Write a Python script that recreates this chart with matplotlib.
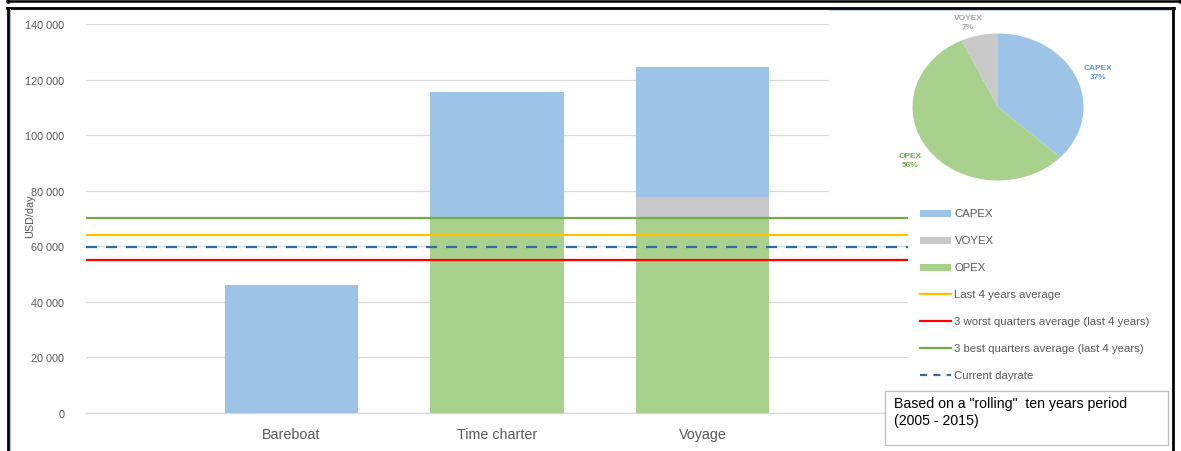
import matplotlib
matplotlib.use("Agg")
import matplotlib.pyplot as plt
from matplotlib.patches import Rectangle
from matplotlib.lines import Line2D

plt.rcParams['font.family'] = ['Liberation Sans', 'DejaVu Sans']

# ---- data -------------------------------------------------------------
categories = ["Bareboat", "Time charter", "Voyage"]
opex = [0, 70000, 70000]
voyex = [0, 0, 7900]
capex = [46200, 45600, 46600]

last4_avg = 64000
worst3_avg = 55000
best3_avg = 70300
current_rate = 59700

pie_labels = ["CAPEX", "OPEX", "VOYEX"]
pie_shares = [37, 56, 7]

y_ticks = [0, 20000, 40000, 60000, 80000, 100000, 120000, 140000]
y_tick_labels = ["0", "20 000", "40 000", "60 000", "80 000", "100 000", "120 000", "140 000"]

# ---- style ------------------------------------------------------------
C_CAPEX = "#9DC3E6"
C_VOYEX = "#C9C9C9"
C_OPEX = "#A9D18E"
C_YELLOW = "#FFC000"
C_RED = "#FF0000"
C_GREEN = "#70AD47"
C_DASH = "#2E6DA4"
C_TEXT = "#595959"
C_GRID = "#D9D9D9"

W, H = 1181, 452
fig = plt.figure(figsize=(W / 100, H / 100), dpi=100)


def px_box(x0, y0, x1, y1):
    return [x0 / W, 1 - y1 / H, (x1 - x0) / W, (y1 - y0) / H]


# ---- main bar chart -----------------------------------------------------
ax = fig.add_axes(px_box(86, 25, 908, 414))
x = [1, 2, 3]
bw = 0.65
ax.bar(x, opex, bw, color=C_OPEX, zorder=2)
ax.bar(x, voyex, bw, bottom=opex, color=C_VOYEX, zorder=2)
base2 = [o + v for o, v in zip(opex, voyex)]
ax.bar(x, capex, bw, bottom=base2, color=C_CAPEX, zorder=2)

ax.set_xlim(0, 4)
ax.set_ylim(0, 140000)
ax.set_yticks(y_ticks)
ax.set_yticklabels(y_tick_labels)
ax.set_xticks(x)
ax.set_xticklabels(categories)
ax.tick_params(axis='y', length=0, pad=15.5, labelsize=7.8, labelcolor=C_TEXT)
ax.tick_params(axis='x', length=0, pad=10, labelsize=10.3, labelcolor=C_TEXT)
ax.yaxis.grid(True, color=C_GRID, lw=0.9, zorder=0)
ax.set_axisbelow(True)
ax.axhline(0, color=C_GRID, lw=1.0, zorder=1, clip_on=False)
for s in ax.spines.values():
    s.set_visible(False)

ax.axhline(best3_avg, color=C_GREEN, lw=1.6, zorder=3)
ax.axhline(last4_avg, color=C_YELLOW, lw=1.6, zorder=3)
ax.axhline(current_rate, color=C_DASH, lw=1.6, ls=(0, (5, 4)), zorder=3)
ax.axhline(worst3_avg, color=C_RED, lw=1.6, zorder=3)

# ---- overlay in pixel coordinates (frames, legend, notes) --------------
ov = fig.add_axes([0, 0, 1, 1], zorder=5)
ov.set_xlim(0, W)
ov.set_ylim(H, 0)
ov.axis('off')
ov.patch.set_alpha(0)

# white panel behind the pie
ov.add_patch(Rectangle((829, 10), 343, 195, facecolor='white', edgecolor='none', zorder=1))
ov.plot([829, 1172], [10.5, 10.5], color="#C9D3E3", lw=0.8, zorder=2)

# frames
ov.plot([7, 1180], [2, 2], color='black', lw=1.8, zorder=6)
ov.plot([8, 8], [0, 3], color='black', lw=1.8, zorder=6)
ov.plot([1179.5, 1179.5], [0, 3], color='black', lw=1.8, zorder=6)
ov.plot([7, 1173.5], [9, 9], color='black', lw=2.0, zorder=6)
ov.plot([8, 8], [9, H], color='black', lw=2.0, zorder=6)
ov.plot([10, 10], [10, H], color='#A9B8D4', lw=0.8, zorder=6)
ov.plot([1172.5, 1172.5], [9, H], color='black', lw=2.0, zorder=6)

ov.text(30, 216, "USD/day", rotation=90, ha='center', va='center',
        fontsize=7.8, color=C_TEXT)

# legend
leg_rows = [
    ("CAPEX", 'patch', C_CAPEX, '-'),
    ("VOYEX", 'patch', C_VOYEX, '-'),
    ("OPEX", 'patch', C_OPEX, '-'),
    ("Last 4 years average", 'line', C_YELLOW, '-'),
    ("3 worst quarters average (last 4 years)", 'line', C_RED, '-'),
    ("3 best quarters average (last 4 years)", 'line', C_GREEN, '-'),
    ("Current dayrate", 'line', C_DASH, (0, (3.2, 2.8))),
]
y0, dy = 214, 27
for i, (lab, kind, col, ls) in enumerate(leg_rows):
    yy = y0 + i * dy
    if kind == 'patch':
        ov.add_patch(Rectangle((920, yy - 3.5), 31, 7, facecolor=col, edgecolor='none', zorder=3))
    else:
        ov.add_line(Line2D([920, 951], [yy, yy], color=col, lw=1.6, ls=ls, zorder=3))
    ov.text(954.5, yy, lab, ha='left', va='center', fontsize=8.2, color=C_TEXT, zorder=3)

# note box
ov.add_patch(Rectangle((885, 392), 283, 54, facecolor='white', edgecolor='#BFBFBF', lw=0.9, zorder=4))
ov.text(894, 397, 'Based on a "rolling"  ten years period\n(2005 - 2015)', ha='left', va='top',
        fontsize=10.2, color='black', linespacing=1.3, zorder=5)

# ---- pie of the voyage cost split ---------------------------------------
pax = fig.add_axes(px_box(912.5, 34.5, 1083.5, 181.5), zorder=6)
pax.pie(pie_shares, colors=[C_CAPEX, C_OPEX, C_VOYEX], startangle=90, counterclock=False,
        radius=1.0, wedgeprops=dict(edgecolor='none'))
pax.set_aspect('auto')
pax.set_xlim(-1, 1)
pax.set_ylim(-1, 1)
pax.axis('off')

lab_style = dict(ha='center', va='center', fontsize=6, fontweight='bold', linespacing=1.45, zorder=7)
ov.text(1098, 73, "CAPEX\n37%", color="#5B9BD5", **lab_style)
ov.text(910, 161, "OPEX\n56%", color="#70AD47", **lab_style)
ov.text(968, 23, "VOYEX\n7%", color="#A5A5A5", **lab_style)

fig.savefig("out.png", dpi=100)
